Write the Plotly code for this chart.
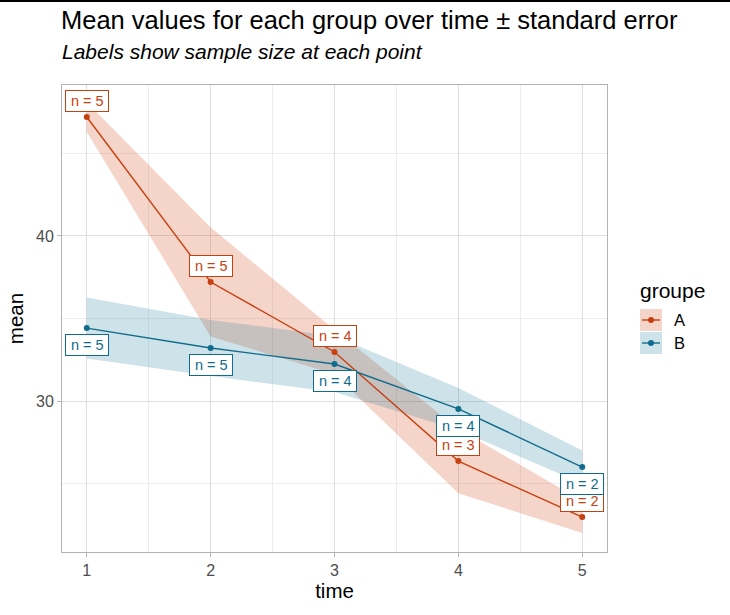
import plotly.graph_objects as go

# ---- data ----
time = [1, 2, 3, 4, 5]
mean_A = [47.21, 37.21, 32.97, 26.36, 22.97]
se_A = [0.90, 3.30, 1.35, 1.95, 0.97]
n_A = [5, 5, 4, 3, 2]
mean_B = [34.42, 33.21, 32.24, 29.52, 26.00]
se_B = [1.85, 1.70, 1.70, 1.27, 1.00]
n_B = [5, 5, 4, 4, 2]
groups = ["A", "B"]

col_line = {"A": "#C8400F", "B": "#106C8C"}
col_fill = {"A": "rgba(215,82,40,0.25)", "B": "rgba(30,125,155,0.22)"}

L, R, T, B = 62, 123, 85, 63
W, H = 730, 615
PW, PH = W - L - R, H - T - B

def px_x(p):
    return (p - L) / PW

def px_y(p):
    return (H - B - p) / PH

fig = go.Figure()
data = {"A": (mean_A, se_A, n_A), "B": (mean_B, se_B, n_B)}

for g in groups:
    m, s, _ = data[g]
    up = [a + b for a, b in zip(m, s)]
    lo = [a - b for a, b in zip(m, s)]
    fig.add_trace(go.Scatter(x=time + time[::-1], y=up + lo[::-1], fill="toself",
                             fillcolor=col_fill[g], line=dict(width=0), mode="lines",
                             hoverinfo="skip", showlegend=False))
for g in groups:
    m, s, _ = data[g]
    fig.add_trace(go.Scatter(x=time, y=m, mode="lines+markers",
                             line=dict(color=col_line[g], width=1.4),
                             marker=dict(color=col_line[g], size=6),
                             showlegend=False))

font_family = "Liberation Sans, Arial, sans-serif"
annots = []
for g, shift in (("A", 16), ("B", -17)):
    m, s, n = data[g]
    for t, v, k in zip(time, m, n):
        annots.append(dict(x=t, y=v, xref="x", yref="y", text=f"\u2009n = {k}\u2009", showarrow=False,
                           yshift=shift, font=dict(family=font_family, size=14.5, color=col_line[g]),
                           bgcolor="white", bordercolor=col_line[g], borderwidth=1, borderpad=2))

# titles
annots.append(dict(x=0, y=1, xref="paper", yref="paper", xanchor="left", yanchor="middle",
                   xshift=-3, yshift=65, showarrow=False,
                   text="Mean values for each group over time ± standard error",
                   font=dict(family=font_family, size=25.5, color="black")))
annots.append(dict(x=0, y=1, xref="paper", yref="paper", xanchor="left", yanchor="middle",
                   xshift=-2, yshift=34, showarrow=False,
                   text="<i>Labels show sample size at each point</i>",
                   font=dict(family=font_family, size=21, color="black")))

# legend (manual)
annots.append(dict(x=px_x(638), y=px_y(290), xref="paper", yref="paper", xanchor="left",
                   yanchor="middle", showarrow=False, text="groupe",
                   font=dict(family=font_family, size=21, color="black")))
shapes = []
for i, g in enumerate(groups):
    y0 = 309 + i * 23
    shapes.append(dict(type="rect", xref="paper", yref="paper", x0=px_x(640), x1=px_x(662),
                       y0=px_y(y0), y1=px_y(y0 + 22), fillcolor=col_fill[g], line=dict(width=0),
                       layer="above"))
    cy = y0 + 11
    shapes.append(dict(type="line", xref="paper", yref="paper", x0=px_x(642), x1=px_x(660),
                       y0=px_y(cy), y1=px_y(cy), line=dict(color=col_line[g], width=1.4),
                       layer="above"))
    shapes.append(dict(type="circle", xref="paper", yref="paper", x0=px_x(648), x1=px_x(654),
                       y0=px_y(cy + 3), y1=px_y(cy - 3), fillcolor=col_line[g],
                       line=dict(width=0), layer="above"))
    annots.append(dict(x=px_x(672), y=px_y(cy), xref="paper", yref="paper", xanchor="left",
                       yanchor="middle", showarrow=False, text=g,
                       font=dict(family=font_family, size=16.5, color="black")))

# top black line
shapes.append(dict(type="line", xref="paper", yref="paper", x0=px_x(0), x1=px_x(730),
                   y0=px_y(1), y1=px_y(1), line=dict(color="black", width=2)))

axis_common = dict(showline=True, linecolor="#B3B3B3", linewidth=1, mirror=True,
                   showgrid=True, gridcolor="#DEDEDE", gridwidth=1,
                   ticks="outside", ticklen=4, tickcolor="#B3B3B3", tickwidth=1,
                   tickfont=dict(family=font_family, size=16, color="#4D4D4D"),
                   zeroline=False)

fig.update_layout(
    width=W, height=H, margin=dict(l=L, r=R, t=T, b=B, autoexpand=False),
    paper_bgcolor="white", plot_bgcolor="white", showlegend=False,
    font=dict(family=font_family),
    xaxis=dict(range=[0.8, 5.2], tickvals=time, ticktext=[str(t) for t in time],
               title=dict(text="time", font=dict(family=font_family, size=20.5, color="black"), standoff=5),
               minor=dict(showgrid=True, gridcolor="#EDEDED", gridwidth=1, tickvals=[1.5, 2.5, 3.5, 4.5], ticks=""),
               **axis_common),
    yaxis=dict(range=[20.85, 49.15], tickvals=[30, 40], ticktext=["30", "40"],
               title=dict(text="mean", font=dict(family=font_family, size=20.5, color="black"), standoff=6),
               minor=dict(showgrid=True, gridcolor="#EDEDED", gridwidth=1, tickvals=[25, 35, 45], ticks=""),
               **axis_common),
    annotations=annots, shapes=shapes,
)

fig.write_html("out.html", config={"displayModeBar": False},
               post_script="document.body.style.margin='0';document.body.style.overflow='hidden';")
